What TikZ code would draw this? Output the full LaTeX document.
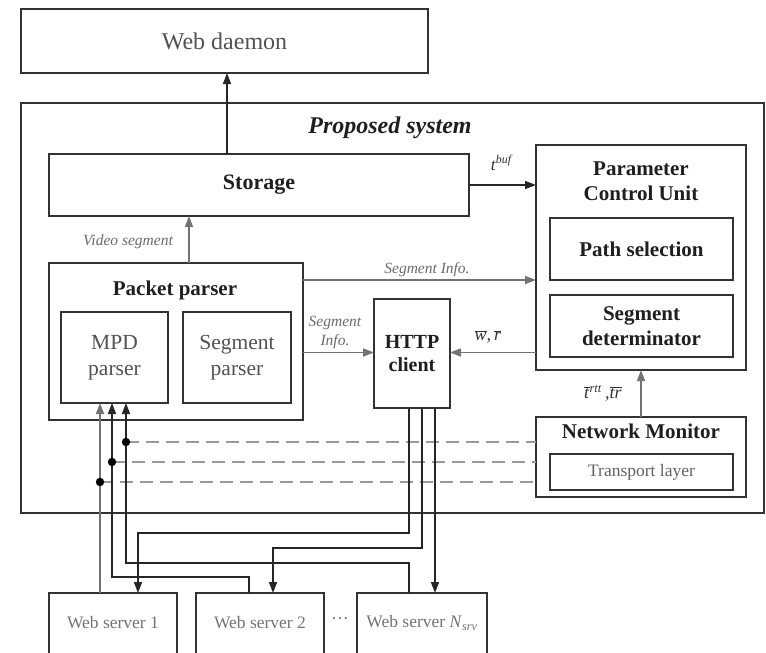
\documentclass[tikz,border=0pt]{standalone}
\usepackage{fontspec}
\setmainfont{Liberation Serif}
\usetikzlibrary{arrows.meta,calc}
\newcommand\myfA{\fontsize{21}{25}\selectfont}
\newcommand\myfB{\fontsize{17.5}{20}\selectfont}
\newcommand\myfC{\fontsize{15.5}{19}\selectfont}
\begin{document}
\begin{tikzpicture}[x=1pt,y=-1pt,
  bx/.style={draw=black!80, line width=1.7pt, inner sep=0pt, outer sep=0pt, anchor=north west, align=center},
  ttl/.style={font=\myfA\bfseries, text=black!88, align=center, inner sep=0pt},
  reg/.style={font=\myfA, text=black!68, align=center},
  lbl/.style={font=\myfC\itshape, text=black!58, align=center, inner sep=0pt},
  ar/.style={-{Triangle[length=11pt,width=8pt]}, line width=1.6pt, draw=black!85},
  arg/.style={-{Triangle[length=11pt,width=8pt]}, line width=1.6pt, draw=black!55},
  dsh/.style={draw=black!40, line width=2.8pt, dash pattern=on 13pt off 7pt},
]
\clip (0,0) rectangle (766,653);
\fill[white] (0,0) rectangle (766,653);
% boxes
\node[bx, minimum width=407, minimum height=64, reg, font=\fontsize{24}{28}\selectfont] (daemon) at (21,9) {Web daemon};
\node[bx, minimum width=743, minimum height=410] (sys) at (21,103) {};
\node[font=\fontsize{24}{28}\selectfont\bfseries\itshape, text=black!88, inner sep=0pt] (systitle) at (390,128) {Proposed system};
\node[bx, minimum width=420, minimum height=62, ttl, font=\fontsize{22}{25}\selectfont\bfseries] (storage) at (49,154) {Storage};
\node[bx, minimum width=210, minimum height=225] (pcu) at (536,145) {};
\node[ttl, font=\fontsize{21}{25}\selectfont\bfseries] (pcut) at (641,181) {Parameter\\Control Unit};
\node[bx, minimum width=183, minimum height=62, ttl] (path) at (550,218) {Path selection};
\node[bx, minimum width=183, minimum height=62, ttl] (segdet) at (550,295) {Segment\\determinator};
\node[bx, minimum width=254, minimum height=157] (pp) at (49,263) {};
\node[ttl] (ppt) at (175,290) {Packet parser};
\node[bx, minimum width=107, minimum height=91, reg, font=\fontsize{21.5}{26}\selectfont] (mpd) at (61,312) {MPD\\parser};
\node[bx, minimum width=108, minimum height=91, reg, font=\fontsize{21.5}{26}\selectfont] (segp) at (183,312) {Segment\\parser};
\node[bx, minimum width=76, minimum height=109, ttl, font=\fontsize{20}{23}\selectfont\bfseries] (http) at (374,299) {HTTP\\client};
\node[bx, minimum width=210, minimum height=80] (nm) at (536,417) {};
\node[ttl] (nmt) at (641,431) {Network Monitor};
\node[bx, minimum width=183, minimum height=36, font=\myfB, text=black!62] (tl) at (550,454) {Transport layer};
\node[bx, minimum width=128, minimum height=80] (ws1) at (49,593) {};
\node[bx, minimum width=128, minimum height=80] (ws2) at (196,593) {};
\node[bx, minimum width=130, minimum height=80] (wsn) at (357,593) {};
\node[font=\myfB, text=black!55] (ws1t) at (113,623) {Web server 1};
\node[font=\myfB, text=black!55] (ws2t) at (260,623) {Web server 2};
\node[font=\myfB, text=black!55] (wsnt) at (422,623) {Web server \textit{N}\textsubscript{\textit{srv}}};
\node[font=\fontsize{18}{20}\selectfont, text=black!55] (dots) at (340,621) {\textperiodcentered\textperiodcentered\textperiodcentered};
% labels
\node[lbl] (vs) at (128,242) {Video segment};
\node[lbl] (si1) at (427,270) {Segment Info.};
\node[lbl, font=\myfC\itshape, align=center] (si2) at (335,333) {Segment\\Info.};
\node[font=\fontsize{17}{20}\selectfont, text=black!80] (tb) at (502,163) {\textit{t}\textsuperscript{\textit{buf}}};
\node[font=\fontsize{18}{20}\selectfont, text=black!80] (wr) at (488,337) {\(\overline{\mbox{\textit{w}}}\)\textit{,\,}\(\overline{\mbox{\textit{r}}}\)};
\node[font=\fontsize{18}{20}\selectfont, text=black!80] (tr) at (603,393) {\(\overline{\mbox{\textit{t}}}\)\textsuperscript{\textit{rtt}}\textit{\,,}\(\overline{\mbox{\textit{tr}}}\)};
% helper coordinates
\coordinate (xa) at (227,0);
\coordinate (xv) at (189,0);
\coordinate (ys1) at (0,280);
\coordinate (ys2) at (0,352.5);
\coordinate (v1) at (100,0);
\coordinate (v2) at (112,0);
\coordinate (v3) at (126,0);
\coordinate (d1) at (126,442);
\coordinate (d2) at (112,462);
\coordinate (d3) at (100,482);
\coordinate (h1) at (409,0);
\coordinate (h2) at (422,0);
\coordinate (h3) at (435,0);
\coordinate (b1) at (138,533);
\coordinate (b2) at (273,548);
\coordinate (g2) at (249,577);
\coordinate (g3) at (409,563);
% connectors
\draw[ar] (storage.north -| xa) -- (daemon.south -| xa);
\draw[arg] (pp.north -| xv) -- (storage.south -| xv);
\draw[ar] (storage.east) -- (storage.east -| pcu.west);
\draw[arg] (pp.east |- ys1) -- (pcu.west |- ys1);
\draw[arg] (pp.east |- ys2) -- (http.west |- ys2);
\draw[arg] (pcu.west |- ys2) -- (http.east |- ys2);
\draw[arg] (nm.north) -- (pcu.south);
% dashed
\draw[dsh] (d1) -- (nm.west |- d1);
\draw[dsh] (d2) -- (nm.west |- d2);
\draw[dsh] (d3) -- (nm.west |- d3);
% server -> MPD
\draw[arg] (ws1.north -| v1) -- (mpd.south -| v1);
\draw[ar] (ws2.north -| g2) |- (v2 |- g2) -- (mpd.south -| v2);
\draw[ar] (wsn.north -| g3) |- (v3 |- g3) -- (mpd.south -| v3);
\fill[black] (d1) circle (4.2) (d2) circle (4.2) (d3) circle (4.2);
% HTTP -> servers
\draw[ar] (http.south -| h1) |- (b1) -- (ws1.north -| b1);
\draw[ar] (http.south -| h2) |- (b2) -- (ws2.north -| b2);
\draw[ar] (http.south -| h3) -- (wsn.north -| h3);
\end{tikzpicture}
\end{document}
